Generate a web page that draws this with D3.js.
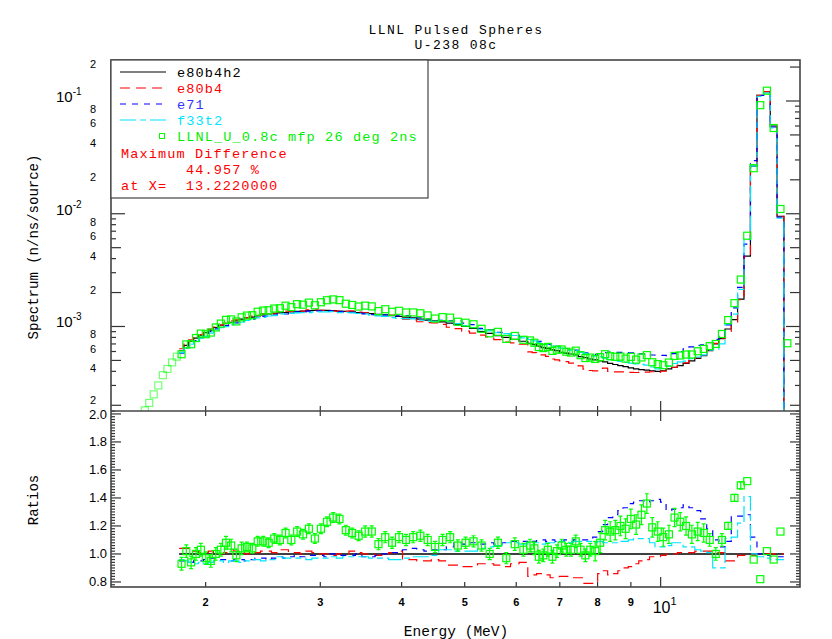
<!DOCTYPE html>
<html>
<head>
<meta charset="utf-8">
<script src="https://cdn.jsdelivr.net/npm/d3@7"></script>
<style>
  body { margin: 0; background: #fff; }
  svg { display: block; }
</style>
</head>
<body>
<svg id="chart" width="832" height="639"></svg>
<script>
// ----------------------------------------------------
// DATA
// ----------------------------------------------------
// energy bin edges (MeV), time-of-flight bins
const edges = [
  1.600, 1.6253, 1.6513, 1.6779, 1.7052, 1.7331, 1.7618, 1.7911, 1.8212, 1.8521,
  1.8837, 1.9162, 1.9495, 1.9837, 2.0188, 2.0549, 2.0919, 2.1299, 2.1690, 2.2092,
  2.2504, 2.2929, 2.3366, 2.3815, 2.4277, 2.4753, 2.5243, 2.5748, 2.6268, 2.6804,
  2.7357, 2.7927, 2.8514, 2.9121, 2.9747, 3.0393, 3.1061, 3.1751, 3.2465, 3.3203,
  3.3966, 3.4755, 3.5573, 3.6420, 3.7297, 3.8207, 3.9150, 4.0128, 4.1144, 4.2199,
  4.3294, 4.4433, 4.5618, 4.6851, 4.8135, 4.9471, 5.0864, 5.2317, 5.3832, 5.5416,
  5.7069, 5.8798, 6.0606, 6.2500, 6.3480, 6.4483, 6.5511, 6.6563, 6.7640, 6.8744,
  6.9875, 7.1034, 7.2224, 7.3443, 7.4693, 7.5975, 7.7289, 7.8638, 8.0025, 8.1446,
  8.2907, 8.4408, 8.5949, 8.7534, 8.9160, 9.0834, 9.2556, 9.4328, 9.6147, 9.8020,
  9.9950, 10.194, 10.399, 10.610, 10.828, 11.052, 11.283, 11.522, 11.769, 12.022,
  12.285, 12.557, 12.837, 13.127, 13.428, 13.738, 14.059, 14.391, 14.736, 15.094,
  15.463, 15.848
];

// reference calculation e80b4h2 (n/ns/source), one value per bin
const e80b4h2 = [
  null, null, null, null, null, null, null, null,
  6.1e-4, 6.8e-4, 7.4e-4, 7.9e-4, 8.4e-4, 8.8e-4, 9.3e-4, 9.8e-4, 1.03e-3, 1.06e-3,
  1.09e-3, 1.12e-3, 1.16e-3, 1.19e-3, 1.21e-3, 1.24e-3, 1.27e-3, 1.29e-3, 1.30e-3, 1.32e-3,
  1.33e-3, 1.35e-3, 1.36e-3, 1.37e-3, 1.38e-3, 1.39e-3, 1.39e-3, 1.39e-3, 1.38e-3, 1.37e-3,
  1.36e-3, 1.35e-3, 1.33e-3, 1.32e-3, 1.30e-3, 1.28e-3, 1.27e-3, 1.25e-3, 1.23e-3, 1.21e-3,
  1.19e-3, 1.16e-3, 1.14e-3, 1.12e-3, 1.10e-3, 1.07e-3, 1.04e-3, 1.00e-3, 9.6e-4, 9.0e-4,
  8.7e-4, 8.3e-4, 8.0e-4, 7.7e-4, 7.4e-4, 7.1e-4, 6.9e-4, 6.7e-4, 6.5e-4, 6.4e-4,
  6.2e-4, 6.1e-4, 5.9e-4, 5.8e-4, 5.7e-4, 5.6e-4, 5.4e-4, 5.3e-4, 5.15e-4, 5.05e-4,
  4.95e-4, 4.85e-4, 4.7e-4, 4.6e-4, 4.5e-4, 4.4e-4, 4.3e-4, 4.2e-4, 4.15e-4, 4.1e-4,
  4.05e-4, 4.0e-4, 4.05e-4, 4.2e-4, 4.35e-4, 4.5e-4, 4.7e-4, 4.95e-4, 5.2e-4, 5.5e-4,
  6.1e-4, 7.0e-4, 7.8e-4, 9.5e-4, 1.15e-3, 1.75e-3, 4.2e-3, 2.64e-2, 0.112, 0.121,
  0.060, 9.5e-3,
  null
];

// ratios to e80b4h2 (as in the lower panel)
const ratioE80b4 = [
  null, null, null, null, null, null, null, null,
  1.04, 1.04, 1.03, 1.02, 1.01, 1.01, 1.02, 1.01, 1.00, 1.01,
  1.03, 1.02, 1.01, 1.00, 1.02, 1.01, 1.02, 1.02, 1.01, 1.03,
  1.03, 1.01, 1.01, 1.00, 1.02, 1.01, 1.00, 1.00, 0.99, 1.00,
  1.00, 1.02, 1.01, 1.00, 1.00, 0.99, 1.00, 1.01, 1.02, 0.96,
  0.96, 0.95, 0.95, 0.96, 0.95, 0.92, 0.92, 0.91, 0.91, 0.93,
  0.93, 0.92, 0.91, 0.93, 0.94, 0.84, 0.85, 0.86, 0.86, 0.85,
  0.83, 0.83, 0.84, 0.84, 0.83, 0.83, 0.83, 0.79, 0.79, 0.80,
  0.86, 0.88, 0.85, 0.86, 0.88, 0.90, 0.91, 0.93, 0.95, 0.96,
  0.98, 0.98, 0.99, 1.00, 1.00, 1.01, 1.01, 1.01, 1.02, 1.02,
  1.02, 1.01, 1.01, 0.95, 0.95, 0.99, 0.99, 0.99, 1.00, 1.00,
  1.00, 1.00,
  null
];

const ratioE71 = [
  null, null, null, null, null, null, null, null,
  0.95, 0.95, 0.94, 0.95, 0.95, 0.96, 0.97, 0.97, 0.96, 0.96,
  0.95, 0.96, 0.96, 0.95, 0.96, 0.97, 0.97, 0.96, 0.97, 0.98,
  0.97, 0.98, 0.99, 0.98, 0.99, 0.99, 0.99, 0.98, 1.00, 0.99,
  0.99, 0.99, 1.00, 0.98, 0.98, 0.99, 1.00, 1.01, 1.01, 1.03,
  1.04, 1.03, 1.02, 1.03, 1.03, 1.05, 1.08, 1.07, 1.08, 1.07,
  1.08, 1.07, 1.08, 1.09, 1.09, 1.08, 1.09, 1.10, 1.10, 1.09,
  1.10, 1.09, 1.09, 1.10, 1.09, 1.10, 1.10, 1.10, 1.10, 1.12,
  1.16, 1.21, 1.26, 1.28, 1.31, 1.33, 1.36, 1.37, 1.38, 1.37,
  1.38, 1.39, 1.37, 1.31, 1.32, 1.33, 1.35, 1.33, 1.31, 1.25,
  1.18, 1.10, 1.05, 1.09, 1.27, 1.27, 1.28, 1.12, 1.00, 0.99,
  0.98, 0.98,
  null
];

const ratioF33t2 = [
  null, null, null, null, null, null, null, null,
  0.96, 0.95, 0.94, 0.93, 0.94, 0.93, 0.94, 0.95, 0.95, 0.94,
  0.95, 0.95, 0.94, 0.95, 0.96, 0.96, 0.95, 0.96, 0.96, 0.98,
  0.97, 0.97, 0.97, 0.97, 0.96, 0.97, 0.97, 0.97, 0.98, 0.97,
  0.98, 0.98, 0.98, 0.98, 0.97, 0.97, 0.97, 0.96, 0.96, 0.97,
  0.98, 0.98, 0.98, 0.99, 1.03, 1.03, 1.02, 1.02, 1.02, 1.04,
  1.05, 1.06, 1.08, 1.08, 1.07, 1.08, 1.08, 1.08, 1.07, 1.08,
  1.08, 1.09, 1.09, 1.09, 1.08, 1.09, 1.09, 1.09, 1.09, 1.08,
  1.09, 1.08, 1.08, 1.08, 1.09, 1.09, 1.10, 1.11, 1.11, 1.11,
  1.08, 1.05, 1.05, 1.06, 1.08, 1.08, 1.05, 1.05, 1.03, 1.02,
  1.01, 0.90, 0.90, 1.11, 1.12, 1.22, 1.41, 1.00, 0.98, 0.97,
  0.96, 0.96,
  null
];

// measurement LLNL_U_0.8c mfp 26 deg 2ns, ratio to e80b4h2 and its error
const ratioData = [
  null, null, null, null, null, null, null, null,
  0.93, 1.02, 0.94, 1.00, 1.03, 0.97, 0.95, 1.00, 1.03, 1.08,
  1.06, 0.99, 1.04, 1.05, 1.04, 1.09, 1.09, 1.08, 1.11, 1.10,
  1.15, 1.10, 1.16, 1.14, 1.18, 1.11, 1.18, 1.23, 1.26, 1.25,
  1.17, 1.15, 1.13, 1.16, 1.16, 1.07, 1.12, 1.08, 1.12, 1.10,
  1.12, 1.13, 1.10, 1.05, 1.10, 1.12, 1.06, 1.08, 1.09, 1.06,
  1.00, 1.08, 0.97, 1.07, 1.03, 1.06, 1.04, 0.98, 0.99, 1.03,
  0.98, 1.02, 1.06, 1.03, 1.03, 1.09, 1.03, 0.99, 1.03, 1.02,
  1.08, 1.17, 1.16, 1.17, 1.20, 1.18, 1.25, 1.21, 1.28, 1.36,
  1.19, 1.16, 1.12, 1.14, 1.26, 1.23, 1.20, 1.14, 1.16, 1.15,
  1.10, 1.00, 1.10, 1.20, 1.40, 1.49, 1.52, 0.96, 0.82, 1.02,
  0.96, 1.16,
  null
];

const errData = [
  null, null, null, null, null, null, null, null,
  0.045, 0.045, 0.045, 0.045, 0.045, 0.045, 0.045, 0.045, 0.045, 0.045,
  0.045, 0.045, 0.045, 0.035, 0.035, 0.035, 0.035, 0.035, 0.035, 0.035,
  0.035, 0.035, 0.035, 0.035, 0.035, 0.035, 0.035, 0.035, 0.035, 0.035,
  0.035, 0.035, 0.035, 0.04, 0.04, 0.04, 0.04, 0.04, 0.04, 0.04,
  0.04, 0.04, 0.04, 0.04, 0.04, 0.04, 0.04, 0.04, 0.04, 0.04,
  0.04, 0.04, 0.04, 0.045, 0.045, 0.045, 0.045, 0.045, 0.045, 0.045,
  0.045, 0.045, 0.045, 0.045, 0.045, 0.045, 0.045, 0.045, 0.045, 0.07,
  0.07, 0.07, 0.07, 0.07, 0.07, 0.07, 0.07, 0.07, 0.07, 0.07,
  0.07, 0.07, 0.065, 0.065, 0.065, 0.065, 0.065, 0.065, 0.065, 0.065,
  0.045, 0.045, 0.045, 0.025, 0.025, 0.025, null, null, null, null,
  null, null,
  null
];

// measured spectrum in bins with no calculation (first 8 bins, last bin)
const dataBelow = [1.8e-4, 2.1e-4, 2.5e-4, 3.0e-4, 3.7e-4, 4.2e-4, 4.8e-4, 5.4e-4];
const dataAbove = [7.1e-4];

// tick values / labels
const xTickValues = [2, 3, 4, 5, 6, 7, 8, 9, 10];
const yDecades = [1e-4, 1e-3, 1e-2, 1e-1];
const yDecadeExp = ["-4", "-3", "-2", "-1"];
const yMinorLabeled = [2, 4, 6, 8];
const ratioTickValues = [0.8, 1.0, 1.2, 1.4, 1.6, 1.8, 2.0];
const ratioTickLabels = ["0.8", "1.0", "1.2", "1.4", "1.6", "1.8", "2.0"];

// ----------------------------------------------------
// SETUP
// ----------------------------------------------------
const svg = d3.select("#chart");

const left = 111, right = 800;
const top1 = 60, bot1 = 411, bot2 = 587;

const mono = "'Liberation Mono', 'DejaVu Sans Mono', monospace";
const sans = "'Liberation Sans', Arial, sans-serif";

const x = d3.scaleLog().domain([1.431, 16.37]).range([left, right]);
const ySpec = d3.scaleLog().domain([1.78e-4, 0.231]).range([bot1, top1]);
const yRat = d3.scaleLinear().domain([0.764, 2.021]).range([bot2, bot1]);

const nBins = edges.length - 1;
const calcIdx = d3.range(nBins).filter(i => e80b4h2[i] != null);

const series = [
  { name: "e80b4h2", ratio: calcIdx.map(() => 1), color: "#000000", dash: null },
  { name: "e80b4", ratio: calcIdx.map(i => ratioE80b4[i]), color: "#ff0000", dash: "10,6" },
  { name: "e71", ratio: calcIdx.map(i => ratioE71[i]), color: "#0000ff", dash: "6,6" },
  { name: "f33t2", ratio: calcIdx.map(i => ratioF33t2[i]), color: "#00e5ff", dash: "16,4,6,4" }
];

const defs = svg.append("defs");
defs.append("clipPath").attr("id", "clipTop")
  .append("rect").attr("x", left).attr("y", top1).attr("width", right - left).attr("height", bot1 - top1);
defs.append("clipPath").attr("id", "clipBot")
  .append("rect").attr("x", left).attr("y", bot1).attr("width", right - left).attr("height", bot2 - bot1);

const stepLine = d3.line().x(d => d[0]).y(d => d[1]).curve(d3.curveStepAfter);

function stepPoints(vals, yFn, dropTo) {
  const pts = calcIdx.map((i, k) => [x(edges[i]), yFn(vals[k])]);
  const last = calcIdx[calcIdx.length - 1];
  pts.push([x(edges[last + 1]), yFn(vals[vals.length - 1])]);
  if (dropTo != null) pts.push([x(edges[last + 1]), dropTo]);
  return pts;
}

// ----------------------------------------------------
// UPPER PANEL: SPECTRUM
// ----------------------------------------------------
const gTop = svg.append("g").attr("clip-path", "url(#clipTop)");

series.forEach(s => {
  const vals = calcIdx.map((i, k) => e80b4h2[i] * s.ratio[k]);
  gTop.append("path")
    .attr("d", stepLine(stepPoints(vals, v => ySpec(v), bot1 + 2)))
    .attr("fill", "none")
    .attr("stroke", s.color)
    .attr("stroke-width", 1.2)
    .attr("stroke-dasharray", s.dash);
});

// measured points
const dataPts = [];
d3.range(nBins).forEach(i => {
  let v = null;
  if (i < dataBelow.length) v = dataBelow[i];
  else if (e80b4h2[i] != null) v = e80b4h2[i] * ratioData[i];
  else v = dataAbove[0];
  dataPts.push({ e: Math.sqrt(edges[i] * edges[i + 1]), v: v, faint: i < dataBelow.length });
});

gTop.selectAll(".dsq")
  .data(dataPts)
  .enter()
  .append("rect")
    .attr("x", d => x(d.e) - 3.5)
    .attr("y", d => ySpec(d.v) - 3.5)
    .attr("width", 7)
    .attr("height", 7)
    .attr("fill", "none")
    .attr("stroke", "#00ff00")
    .attr("stroke-opacity", d => d.faint ? 0.55 : 1)
    .attr("stroke-width", 1.2);

// ----------------------------------------------------
// LOWER PANEL: RATIOS
// ----------------------------------------------------
const gBot = svg.append("g").attr("clip-path", "url(#clipBot)");

series.forEach(s => {
  gBot.append("path")
    .attr("d", stepLine(stepPoints(s.ratio, v => yRat(v), null)))
    .attr("fill", "none")
    .attr("stroke", s.color)
    .attr("stroke-width", s.dash ? 1.2 : 1.5)
    .attr("stroke-dasharray", s.dash);
});

const ratioPts = calcIdx.map(i => ({
  e: Math.sqrt(edges[i] * edges[i + 1]),
  r: ratioData[i],
  err: errData[i]
}));

const errPts = ratioPts.filter(d => d.err != null);
gBot.selectAll(".ebar")
  .data(errPts)
  .enter()
  .append("path")
    .attr("d", d => {
      const cx = x(d.e), y1 = yRat(d.r - d.err), y2 = yRat(d.r + d.err);
      return `M${cx},${y1}V${y2}M${cx - 2},${y1}H${cx + 2}M${cx - 2},${y2}H${cx + 2}`;
    })
    .attr("fill", "none")
    .attr("stroke", "#00ff00")
    .attr("stroke-width", 1.2);

gBot.selectAll(".rsq")
  .data(ratioPts)
  .enter()
  .append("rect")
    .attr("x", d => x(d.e) - 3.5)
    .attr("y", d => yRat(d.r) - 3.5)
    .attr("width", 7)
    .attr("height", 7)
    .attr("fill", "none")
    .attr("stroke", "#00ff00")
    .attr("stroke-width", 1.2);

// ----------------------------------------------------
// FRAME AND TICKS
// ----------------------------------------------------
const gAx = svg.append("g").attr("stroke", "#333").attr("stroke-width", 1.2);

// upper panel y ticks (both sides)
yDecades.forEach(d => {
  for (let k = 1; k <= 9; k++) {
    const v = k * d;
    if (v < ySpec.domain()[0] || v > ySpec.domain()[1]) continue;
    const len = k === 1 ? 14 : (k === 2 || k === 5 ? 10 : 5);
    const yy = ySpec(v);
    gAx.append("line").attr("x1", left).attr("x2", left + len).attr("y1", yy).attr("y2", yy);
    gAx.append("line").attr("x1", right).attr("x2", right - len).attr("y1", yy).attr("y2", yy);
  }
});

// lower panel y ticks (both sides)
d3.range(39, 102).forEach(k => {
  const v = k / 50;
  const len = k % 10 === 0 ? 10 : 4;
  const yy = yRat(v);
  gAx.append("line").attr("x1", left).attr("x2", left + len).attr("y1", yy).attr("y2", yy);
  gAx.append("line").attr("x1", right).attr("x2", right - len).attr("y1", yy).attr("y2", yy);
});

// x ticks
xTickValues.forEach(v => {
  const xx = x(v);
  const len = v === 10 ? 10 : 5;
  gAx.append("line").attr("x1", xx).attr("x2", xx).attr("y1", bot1).attr("y2", bot1 - len);
  gAx.append("line").attr("x1", xx).attr("x2", xx).attr("y1", bot1).attr("y2", bot1 + len);
  gAx.append("line").attr("x1", xx).attr("x2", xx).attr("y1", bot2).attr("y2", bot2 - len);
});

svg.append("rect")
  .attr("x", left).attr("y", top1)
  .attr("width", right - left).attr("height", bot2 - top1)
  .attr("fill", "none").attr("stroke", "#444").attr("stroke-width", 1.6);
svg.append("line")
  .attr("x1", left).attr("x2", right).attr("y1", bot1).attr("y2", bot1)
  .attr("stroke", "#444").attr("stroke-width", 1.6);

// ----------------------------------------------------
// TICK LABELS
// ----------------------------------------------------
yDecades.forEach((d, j) => {
  if (d >= ySpec.domain()[0] && d <= ySpec.domain()[1]) {
    const t = svg.append("text")
      .attr("x", 56).attr("y", ySpec(d) + 1)
      .style("font-family", sans).style("font-size", "15px");
    t.append("tspan").text("10");
    t.append("tspan")
      .attr("dy", -7)
      .style("font-size", "10px")
      .text(yDecadeExp[j]);
  }
  yMinorLabeled.forEach(k => {
    const v = k * d;
    if (v < ySpec.domain()[0] || v > ySpec.domain()[1]) return;
    svg.append("text")
      .attr("x", 93).attr("y", ySpec(v) + (v < 3e-4 ? -1 : 1))
      .attr("text-anchor", "middle")
      .style("font-family", sans).style("font-size", "11px")
      .text(k);
  });
});

ratioTickValues.forEach((v, j) => {
  svg.append("text")
    .attr("x", 107).attr("y", yRat(v) + (v === 2.0 ? 5 : 4))
    .attr("text-anchor", "end")
    .style("font-family", sans).style("font-size", "13px")
    .text(ratioTickLabels[j]);
});

xTickValues.forEach(v => {
  if (v === 10) {
    const t = svg.append("text")
      .attr("x", x(v) - 8).attr("y", 613)
      .style("font-family", sans).style("font-size", "16px");
    t.append("tspan").text("10");
    t.append("tspan").attr("dy", -8).style("font-size", "11px").text("1");
  } else {
    svg.append("text")
      .attr("x", x(v)).attr("y", 606)
      .attr("text-anchor", "middle")
      .style("font-family", sans).style("font-size", "11px").style("font-weight", "bold")
      .text(v);
  }
});

// ----------------------------------------------------
// TITLES
// ----------------------------------------------------
svg.append("text")
  .attr("x", 456).attr("y", 34)
  .attr("text-anchor", "middle")
  .style("font-family", mono).style("font-size", "13px").style("letter-spacing", "1.4px")
  .text("LLNL Pulsed Spheres");
svg.append("text")
  .attr("x", 456).attr("y", 49)
  .attr("text-anchor", "middle")
  .style("font-family", mono).style("font-size", "13px").style("letter-spacing", "1.4px")
  .text("U-238 08c");

svg.append("text")
  .attr("x", 456).attr("y", 636)
  .attr("text-anchor", "middle")
  .style("font-family", mono).style("font-size", "14.5px")
  .text("Energy (MeV)");

svg.append("text")
  .attr("transform", "translate(38,247) rotate(-90)")
  .attr("text-anchor", "middle")
  .style("font-family", mono).style("font-size", "14px")
  .text("Spectrum (n/ns/source)");

svg.append("text")
  .attr("transform", "translate(38,500) rotate(-90)")
  .attr("text-anchor", "middle")
  .style("font-family", mono).style("font-size", "14px")
  .text("Ratios");

// ----------------------------------------------------
// LEGEND
// ----------------------------------------------------
const leg = svg.append("g");
leg.append("rect")
  .attr("x", left).attr("y", top1)
  .attr("width", 317).attr("height", 138)
  .attr("fill", "#fff").attr("stroke", "#444").attr("stroke-width", 1.2);

const legFont = { size: "13.6px", spacing: "1.1px" };

const legRows = [72, 88, 104, 120];
series.forEach((s, j) => {
  leg.append("line")
    .attr("x1", 120).attr("x2", 166)
    .attr("y1", legRows[j]).attr("y2", legRows[j])
    .attr("stroke", s.color).attr("stroke-width", 1.2)
    .attr("stroke-dasharray", s.dash);
  leg.append("text")
    .attr("x", 177).attr("y", legRows[j] + 5)
    .attr("fill", j === 2 ? "#3333ff" : s.color)
    .style("font-family", mono).style("font-size", legFont.size).style("letter-spacing", legFont.spacing)
    .text(s.name);
});

leg.append("rect")
  .attr("x", 159.5).attr("y", 133.5).attr("width", 5).attr("height", 5)
  .attr("fill", "none").attr("stroke", "#00ff00").attr("stroke-width", 1);
leg.append("text")
  .attr("x", 177).attr("y", 141)
  .attr("fill", "#00ee00")
  .style("font-family", mono).style("font-size", legFont.size).style("letter-spacing", legFont.spacing)
  .text("LLNL_U_0.8c mfp 26 deg 2ns");

const legNotes = [
  { x: 121, y: 158, t: "Maximum Difference" },
  { x: 186, y: 174, t: "44.957 %" },
  { x: 121, y: 190, t: "at X=  13.2220000" }
];
legNotes.forEach(n => {
  leg.append("text")
    .attr("x", n.x).attr("y", n.y)
    .attr("fill", "#ff0000")
    .attr("xml:space", "preserve")
    .style("white-space", "pre")
    .style("font-family", mono).style("font-size", legFont.size).style("letter-spacing", legFont.spacing)
    .text(n.t);
});
</script>
</body>
</html>
